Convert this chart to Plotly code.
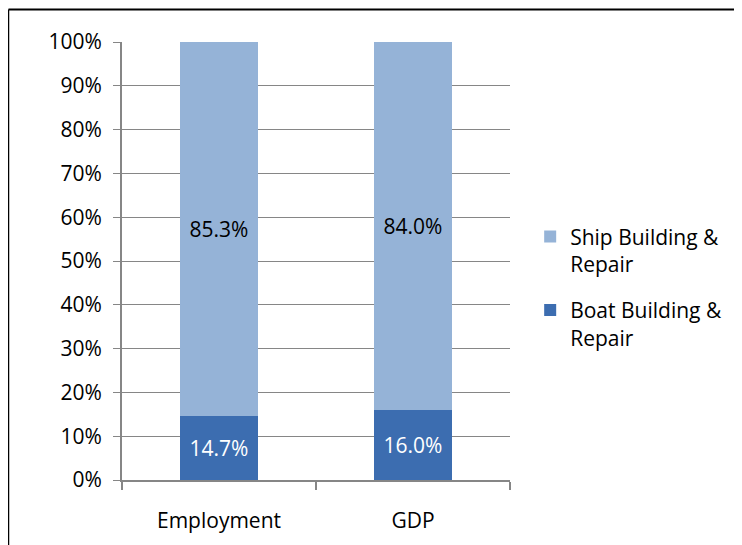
import plotly.graph_objects as go

categories = ["Employment", "GDP"]
boat_share = [0.147, 0.160]
ship_share = [0.853, 0.840]
boat_labels = ["14.7%", "16.0%"]
ship_labels = ["85.3%", "84.0%"]

FONT = "Open Sans, Lato, Arial, sans-serif"
GRID = "#868686"

fig = go.Figure()
fig.add_trace(go.Bar(
    x=categories, y=boat_share, name="Boat Building &<br>Repair",
    legendgroup="boat", legendrank=2,
    text=boat_labels, textposition="inside", insidetextanchor="middle",
    textfont=dict(color="white", size=21),
    marker=dict(color="#3C6DB0", line=dict(width=0)),
))
fig.add_trace(go.Bar(
    x=categories, y=ship_share, name="Ship Building &<br>Repair",
    legendgroup="ship", legendrank=1,
    text=ship_labels, textposition="inside", insidetextanchor="middle",
    textfont=dict(color="black", size=21),
    marker=dict(color="#95B3D7", line=dict(width=0)),
))

# plot area sits at x 114..502, y 34..472 inside the 742x545 figure
fig.update_layout(
    barmode="stack",
    bargap=0.6,
    width=742, height=545,
    margin=dict(l=114, r=240, t=34, b=73),
    plot_bgcolor="white", paper_bgcolor="white",
    font=dict(family=FONT, size=21, color="black"),
    showlegend=True,
    legend=dict(
        traceorder="grouped", x=1.052, y=0.44, yanchor="middle",
        font=dict(size=21), tracegroupgap=16, itemwidth=30, valign="top",
    ),
    uniformtext=dict(mode="show", minsize=10),
)

fig.update_yaxes(
    range=[0, 1], dtick=0.1, tickformat=".0%",
    showgrid=True, gridcolor=GRID, gridwidth=1,
    showline=True, linecolor=GRID, linewidth=2,
    ticks="outside", ticklen=7, tickcolor=GRID, tickwidth=1,
    ticklabelstandoff=7, zeroline=False,
)
fig.update_xaxes(
    showline=True, linecolor=GRID, linewidth=2,
    ticks="outside", tickson="boundaries", ticklen=8, tickcolor=GRID, tickwidth=2,
    ticklabelstandoff=21, showgrid=False,
)

# chart border (left and top edges visible in the source)
x0 = (0.5 - 114) / 388
y0 = (472 - 1.5) / 438
fig.add_shape(type="line", xref="paper", yref="paper",
              x0=x0, x1=x0, y0=y0, y1=-0.2, line=dict(color="black", width=1.5))
fig.add_shape(type="line", xref="paper", yref="paper",
              x0=x0, x1=1.7, y0=y0, y1=y0, line=dict(color="black", width=2))

fig.write_html("out.html")
